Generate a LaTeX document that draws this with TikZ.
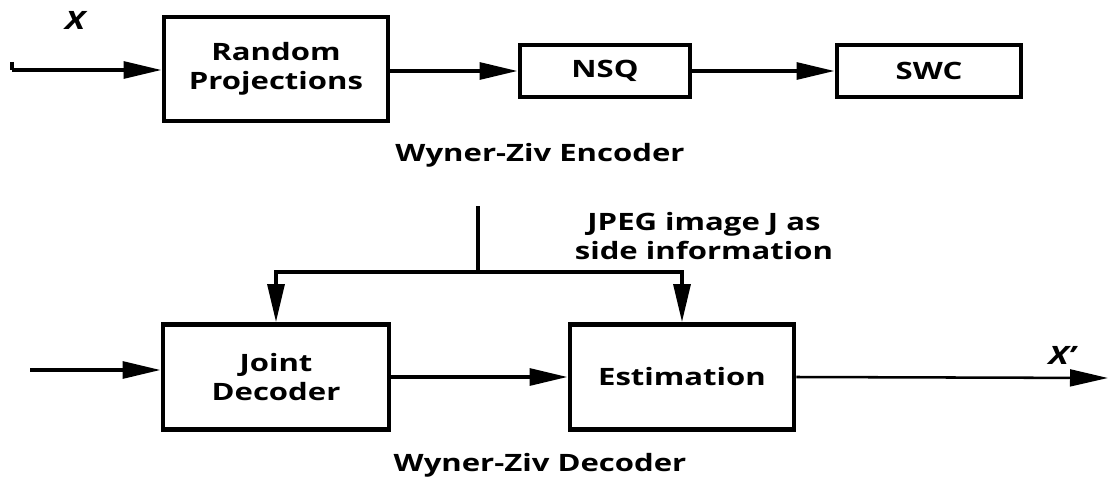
\documentclass[tikz,border=0pt]{standalone}
\usepackage{fontspec}
\setmainfont{Open Sans}[FakeStretch=1.3]
\usetikzlibrary{arrows.meta}

\tikzset{
  block/.style={draw, line width=3.4pt, font=\bfseries\fontsize{17}{21}\selectfont, align=center, inner sep=0pt},
  link/.style={line width=2.6pt},
  arrow/.style={line width=2.6pt, -{Triangle[length=0.95cm, width=0.42cm]}},
  caption/.style={font=\bfseries\fontsize{17}{21}\selectfont, align=center},
  signal/.style={font=\bfseries\itshape\fontsize{18}{20}\selectfont}
}

\begin{document}
\begin{tikzpicture}[x=0.025cm, y=-0.025cm]

   \useasboundingbox (0,0) rectangle (1110,479);

   % encoder
   \node (X) at (75,20) [signal] {X};
   \node (RP) at (276,69) [block, minimum width=5.6cm, minimum height=2.6cm] {Random\\Projections};
   \node (NSQ) at (605,71) [block, minimum width=4.25cm, minimum height=1.3cm] {NSQ};
   \node (SWC) at (929,71) [block, minimum width=4.6cm, minimum height=1.3cm] {SWC};
   \node (Enc) at (540,155) [caption] {Wyner-Ziv Encoder};

   \coordinate (tick) at (12,62);
   \coordinate (in) at (12,70);

   \draw [link] (tick) -- (in);
   \draw [arrow] (in) -- (in -| RP.west);
   \draw [arrow] (RP.east |- NSQ.west) -- (NSQ.west);
   \draw [arrow] (NSQ.east) -- (SWC.west);

   % decoder
   \node (Side) at (704,236) [caption] {JPEG image J as\\side information};
   \node (JD) at (276,377) [block, minimum width=5.65cm, minimum height=2.62cm] {Joint\\Decoder};
   \node (Est) at (682,377) [block, minimum width=5.6cm, minimum height=2.62cm] {Estimation};
   \node (Xp) at (1062,355) [signal] {X’};
   \node (Dec) at (540,465) [caption] {Wyner-Ziv Decoder};

   \coordinate (top) at (478,206);
   \coordinate (split) at (478,272);
   \coordinate (din) at (30,370);
   \coordinate (out) at (1108,378);

   \draw [link] (top) -- (split);
   \draw [arrow] (split) -| (JD.north);
   \draw [arrow] (split) -| (Est.north);
   \draw [arrow] (din) -- (din -| JD.west);
   \draw [arrow] (JD.east) -- (Est.west);
   \draw [arrow, line width=1.8pt] (Est.east) -- (out);

\end{tikzpicture}
\end{document}
